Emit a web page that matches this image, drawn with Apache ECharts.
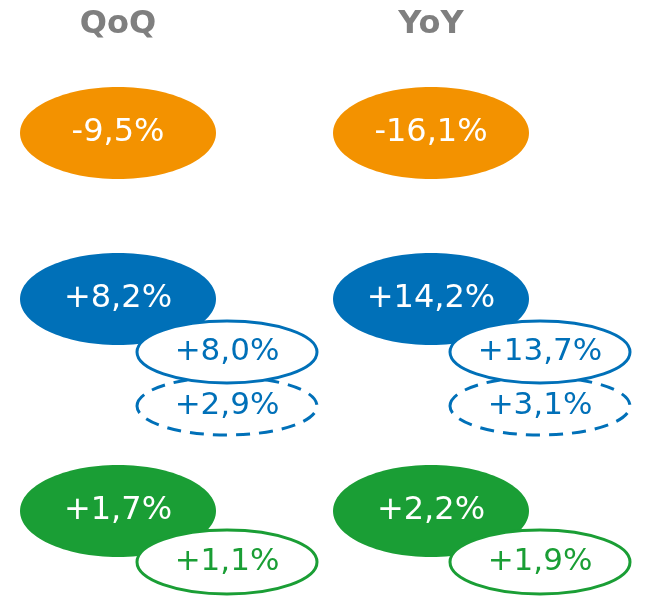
<!DOCTYPE html>
<html>
<head>
<meta charset="utf-8">
<script src="https://cdn.jsdelivr.net/npm/echarts@6/dist/echarts.min.js"></script>
<style>
    html, body { margin: 0; padding: 0; background: #fff; }
    #chart { width: 645px; height: 596px; }
</style>
</head>
<body>
<div id="chart"></div>
<script>
// periods (columns)
const periods = ['QoQ', 'YoY'];

// values per group, [QoQ, YoY]
const orangeMain = ['-9,5%', '-16,1%'];
const blueMain = ['+8,2%', '+14,2%'];
const blueSub = ['+8,0%', '+13,7%'];
const blueSubDashed = ['+2,9%', '+3,1%'];
const greenMain = ['+1,7%', '+2,2%'];
const greenSub = ['+1,1%', '+1,9%'];

const ORANGE = '#F39200';
const BLUE = '#0070B8';
const GREEN = '#1A9E35';
const FONT = 'DejaVu Sans';

// grid rows for the three groups
const groupRows = [
    { top: 108, height: 50 },
    { top: 274, height: 50 },
    { top: 486, height: 50 },
];

// look of each ellipse kind: size and offset from the main one
const kinds = {
    main: { rx: 98, ry: 46, dx: 0, dy: 0, fontSize: 32 },
    sub: { rx: 90, ry: 31, dx: 109, dy: 53, fontSize: 31 },
    subLow: { rx: 90, ry: 32, dx: 109, dy: 51, fontSize: 31 },
    dashed: { rx: 90, ry: 29, dx: 109, dy: 107, fontSize: 31 },
};

const ellipseSeries = (gridIndex, kindName, labels, color, z) => ({
    type: 'custom',
    xAxisIndex: gridIndex,
    yAxisIndex: gridIndex,
    clip: false,
    z: z,
    silent: true,
    data: labels.map((l, i) => [i, 0, l]),
    renderItem: (params, api) => {
        const k = kinds[kindName];
        const p = api.coord([api.value(0), 0]);
        const cx = p[0] + k.dx;
        const cy = p[1] + k.dy;
        const isMain = kindName === 'main';
        return {
            type: 'group',
            children: [{
                type: 'ellipse',
                shape: { cx: cx, cy: cy, rx: k.rx, ry: k.ry },
                style: isMain
                    ? { fill: color }
                    : {
                        fill: '#fff',
                        stroke: color,
                        lineWidth: 3,
                        lineDash: kindName === 'dashed' ? [14, 9] : null,
                    },
            }, {
                type: 'text',
                x: cx,
                y: cy,
                style: {
                    text: labels[params.dataIndex],
                    fill: isMain ? '#fff' : color,
                    fontSize: k.fontSize,
                    fontFamily: FONT,
                    align: 'center',
                    verticalAlign: 'middle',
                },
            }],
        };
    },
});

const chart = echarts.init(document.getElementById('chart'), null, { renderer: 'canvas' });

chart.setOption({
    animation: false,
    grid: groupRows.map(r => ({ left: 118, right: 214, top: r.top, height: r.height })),
    xAxis: groupRows.map((r, i) => ({
        type: 'category',
        gridIndex: i,
        data: periods,
        boundaryGap: false,
        position: 'top',
        axisLine: { show: false },
        axisTick: { show: false },
        splitLine: { show: false },
        axisLabel: {
            show: i === 0,
            margin: 67,
            color: '#7F7F7F',
            fontFamily: FONT,
            fontWeight: 'bold',
            fontSize: 32,
        },
    })),
    yAxis: groupRows.map((r, i) => ({
        type: 'value',
        gridIndex: i,
        min: -1,
        max: 1,
        show: false,
    })),
    series: [
        ellipseSeries(0, 'main', orangeMain, ORANGE, 2),
        ellipseSeries(1, 'main', blueMain, BLUE, 2),
        ellipseSeries(1, 'dashed', blueSubDashed, BLUE, 3),
        ellipseSeries(1, 'sub', blueSub, BLUE, 4),
        ellipseSeries(2, 'main', greenMain, GREEN, 2),
        ellipseSeries(2, 'subLow', greenSub, GREEN, 4),
    ],
});
</script>
</body>
</html>
